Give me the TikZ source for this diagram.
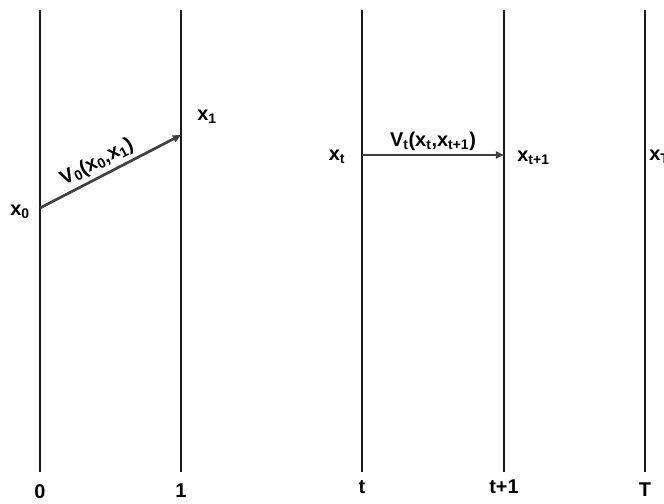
\documentclass[tikz,border=0pt]{standalone}
\usepackage{fontspec}
\setmainfont{Liberation Sans}
\usetikzlibrary{arrows.meta,positioning}

\begin{document}
\begin{tikzpicture}[
  x=0.03cm,y=-0.03cm,
  stage/.style={line width=1.6pt,black!90},
  move/.style={-{Triangle[length=7pt,width=6pt]},line width=2.3pt,black!75},
  lab/.style={font=\fontsize{17}{20}\selectfont\bfseries,inner sep=1pt,text=black},
]
\useasboundingbox (0,0) rectangle (664,504);
% one vertical line per stage, time label underneath
\foreach \n/\x/\y/\t in {s0/40/492/0, s1/181/491/1, st/362/487/t, st1/504/487/t+1, sT/645/490/T} {
  \coordinate (\n top) at (\x,10);
  \coordinate (\n bot) at (\x,472);
  \draw[stage] (\n top) -- (\n bot);
  \node[lab] (\n lab) at (\x,\y) {\t};
}
% transition from stage 0 to stage 1
\coordinate (p0) at (40,208);
\coordinate (p1) at (181,135);
\node[lab] (x0) at (20,212) {x\textsubscript{0}};
\node[lab] (x1) at (207,117) {x\textsubscript{1}};
\draw[move] (p0) -- node[lab,sloped,above=2pt,pos=0.45] (v0)
  {V\textsubscript{0}(x\textsubscript{0},x\textsubscript{1})} (p1);
% transition from stage t to stage t+1
\coordinate (pt) at (362,155);
\coordinate (pt1) at (504,155);
\node[lab] (xt) at (337,157) {x\textsubscript{t}};
\node[lab,anchor=west] (xt1) at (516,158) {x\textsubscript{t+1}};
\draw[move] (pt) -- node[lab,above=2pt] (vt)
  {V\textsubscript{t}(x\textsubscript{t},x\textsubscript{t+1})} (pt1);
% terminal stage
\node[lab,anchor=west] (xT) at (648,157) {x\textsubscript{T}};
\end{tikzpicture}
\end{document}
